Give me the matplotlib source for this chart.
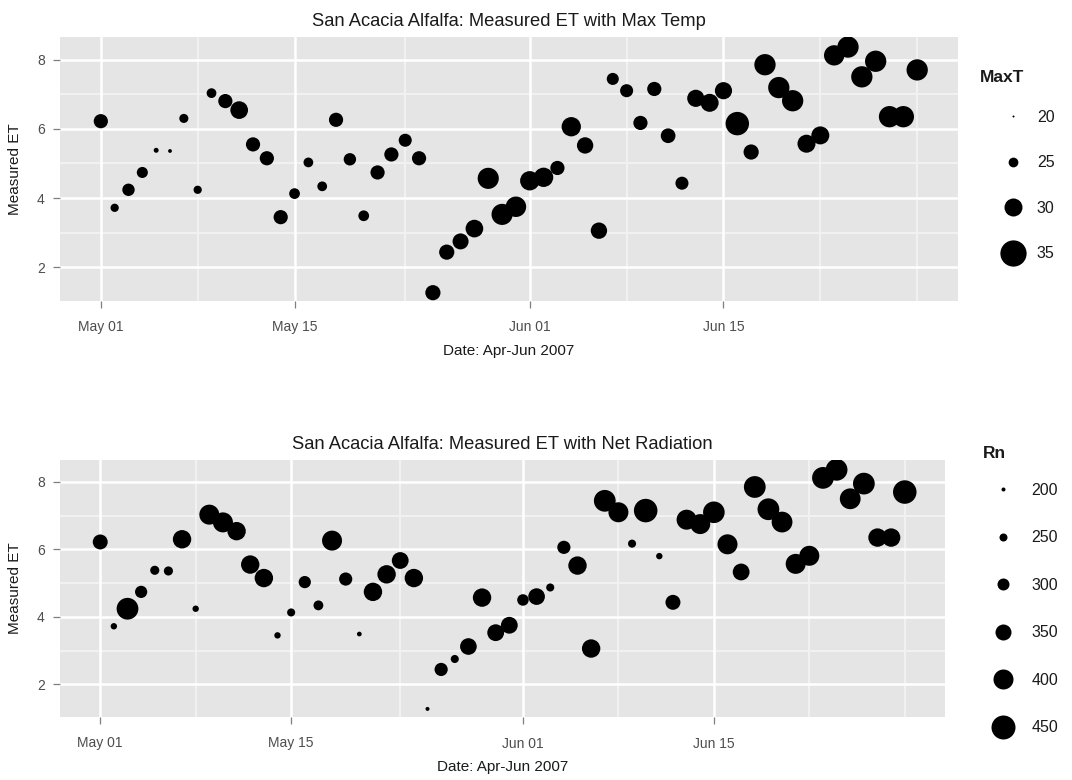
import matplotlib
matplotlib.use("Agg")
import matplotlib.pyplot as plt
import matplotlib.dates as mdates
from matplotlib.lines import Line2D
import pandas as pd

# ---------------- data ----------------
dates = ["2007-05-%02d" % d for d in range(1, 32)] + ["2007-06-%02d" % d for d in range(1, 30)]

et = [6.22, 3.72, 4.24, 4.74, 5.38, 5.36, 6.30, 4.24, 7.03, 6.80,
      6.54, 5.55, 5.15, 3.45, 4.13, 5.03, 4.34, 6.26, 5.12, 3.49,
      4.74, 5.26, 5.67, 5.15, 1.27, 2.44, 2.75, 3.12, 4.57, 3.53, 3.75,
      4.50, 4.60, 4.87, 6.06, 5.52, 3.06, 7.44, 7.10, 6.17, 7.15,
      5.80, 4.43, 6.88, 6.75, 7.10, 6.15, 5.33, 7.85, 7.19, 6.81,
      5.57, 5.81, 8.12, 8.36, 7.50, 7.95, 6.35, 6.35, 7.70]

maxt = [27.7, 24.1, 26.6, 25.8, 22.1, 21.4, 24.6, 24.1, 25.0, 27.7,
        29.8, 27.7, 27.7, 27.7, 25.6, 25.0, 25.0, 27.7, 26.6, 25.6,
        27.7, 27.7, 27.0, 27.7, 28.3, 28.3, 28.8, 29.8, 31.9, 31.9, 31.5,
        30.8, 30.8, 27.7, 30.8, 29.0, 29.0, 26.4, 27.0, 27.7, 27.7,
        28.0, 27.0, 29.5, 30.0, 29.5, 33.3, 28.3, 32.0, 32.0, 32.0,
        30.0, 30.0, 31.4, 32.0, 32.0, 32.0, 32.0, 32.0, 32.0]

rn = [337, 230, 422, 303, 264, 264, 380, 230, 400, 400,
      380, 380, 380, 230, 251, 303, 273, 400, 315, 209,
      380, 380, 360, 380, 200, 315, 251, 358, 380, 360, 360,
      294, 358, 251, 315, 380, 380, 422, 400, 251, 444,
      230, 337, 400, 400, 420, 400, 360, 422, 422, 410,
      400, 400, 422, 422, 410, 422, 380, 380, 444]

maxt_breaks = [20, 25, 30, 35]
rn_breaks = [200, 250, 300, 350, 400, 450]
major_ticks = ["2007-05-01", "2007-05-15", "2007-06-01", "2007-06-15"]
minor_ticks = ["2007-05-08", "2007-05-23", "2007-06-08", "2007-06-22", "2007-06-29"]
y_ticks = [2, 4, 6, 8]
y_minor = [3, 5, 7]

DPI = 100
FIG_W, FIG_H = 1072, 780
PT = 72.0 / DPI


def size_maxt(v):
    d_px = 1.5 + 1.65 * (v - 20.0)
    return max(d_px, 2.0) * PT


def size_rn(v):
    d_px = 4.0 + 0.080 * (v - 200.0)
    return max(d_px, 2.5) * PT


x = pd.to_datetime(dates)
x0 = x.min() - pd.Timedelta(days=2.95)
x1 = x.max() + pd.Timedelta(days=2.95)

plt.rcParams['font.family'] = ['Liberation Sans', 'DejaVu Sans']
fig = plt.figure(figsize=(FIG_W / DPI, FIG_H / DPI), dpi=DPI)


def px_axes(l, t, r, b):
    return fig.add_axes([l / FIG_W, 1 - b / FIG_H, (r - l) / FIG_W, (b - t) / FIG_H])


def style(ax, title):
    ax.set_facecolor("#E5E5E5")
    for s in ax.spines.values():
        s.set_visible(False)
    ax.set_xlim(x0, x1)
    ax.set_ylim(1.03, 8.65)
    for d in minor_ticks:
        ax.axvline(pd.Timestamp(d), color="#F2F2F2", lw=1.4, zorder=0.5)
    for yv in y_minor:
        ax.axhline(yv, color="#F2F2F2", lw=1.4, zorder=0.5)
    for d in major_ticks:
        ax.axvline(pd.Timestamp(d), color="white", lw=1.8, zorder=0.6)
    for yv in y_ticks:
        ax.axhline(yv, color="white", lw=1.8, zorder=0.6)
    ax.set_xticks(pd.to_datetime(major_ticks))
    ax.xaxis.set_major_formatter(mdates.DateFormatter("%b %d"))
    ax.set_yticks(y_ticks)
    ax.tick_params(axis="both", colors="#7F7F7F", labelcolor="#4D4D4D",
                   labelsize=10, length=7 * PT, width=0.9)
    ax.tick_params(axis="x", pad=9)
    ax.tick_params(axis="y", pad=6)
    ax.set_title(title, fontsize=13.2, pad=8, color="#1A1A1A")
    ax.set_xlabel("Date: Apr-Jun 2007", fontsize=11, labelpad=7, color="#1A1A1A")
    ax.set_ylabel("Measured ET", fontsize=11, labelpad=11, color="#1A1A1A")


def add_legend(handles, labels, title, key_x, first_y, last_y, title_x, title_y,
               spacing_px, textpad):
    fs = 11.5
    leg = fig.legend(handles, labels, loc="center left",
                     bbox_to_anchor=((key_x - 16 - 0.2 * fs / PT) / FIG_W,
                                     1 - 0.5 * (first_y + last_y) / FIG_H),
                     frameon=False, fontsize=fs, handlelength=2.0,
                     labelspacing=(spacing_px * PT - 0.93 * fs) / fs,
                     handletextpad=textpad, borderpad=0.2, borderaxespad=0)
    for t in leg.get_texts():
        t.set_color("#1A1A1A")
    fig.text(title_x / FIG_W, 1 - title_y / FIG_H, title, fontsize=12.5,
             fontweight="bold", ha="left", va="center", color="#1A1A1A")
    return leg


# ---------------- top panel ----------------
ax1 = px_axes(60, 37, 958, 301)
style(ax1, "San Acacia Alfalfa: Measured ET with Max Temp")
ax1.scatter(x, et, s=[size_maxt(v) ** 2 for v in maxt], color="black",
            edgecolors="none", zorder=3)
h1 = [Line2D([], [], ls="none", marker="o", color="black",
             markersize=size_maxt(b), markeredgewidth=0) for b in maxt_breaks]
add_legend(h1, [str(b) for b in maxt_breaks], "MaxT", 1013, 118, 253, 980, 77, 45.5, 0.5)

# ---------------- bottom panel ----------------
ax2 = px_axes(60, 460, 945, 717)
style(ax2, "San Acacia Alfalfa: Measured ET with Net Radiation")
ax2.scatter(x, et, s=[size_rn(v) ** 2 for v in rn], color="black",
            edgecolors="none", zorder=3)
h2 = [Line2D([], [], ls="none", marker="o", color="black",
             markersize=size_rn(b), markeredgewidth=0) for b in rn_breaks]
add_legend(h2, [str(b) for b in rn_breaks], "Rn", 1003, 491, 727, 983, 453, 47.3, 0.8)

fig.savefig("out.png", dpi=DPI, facecolor="white")
